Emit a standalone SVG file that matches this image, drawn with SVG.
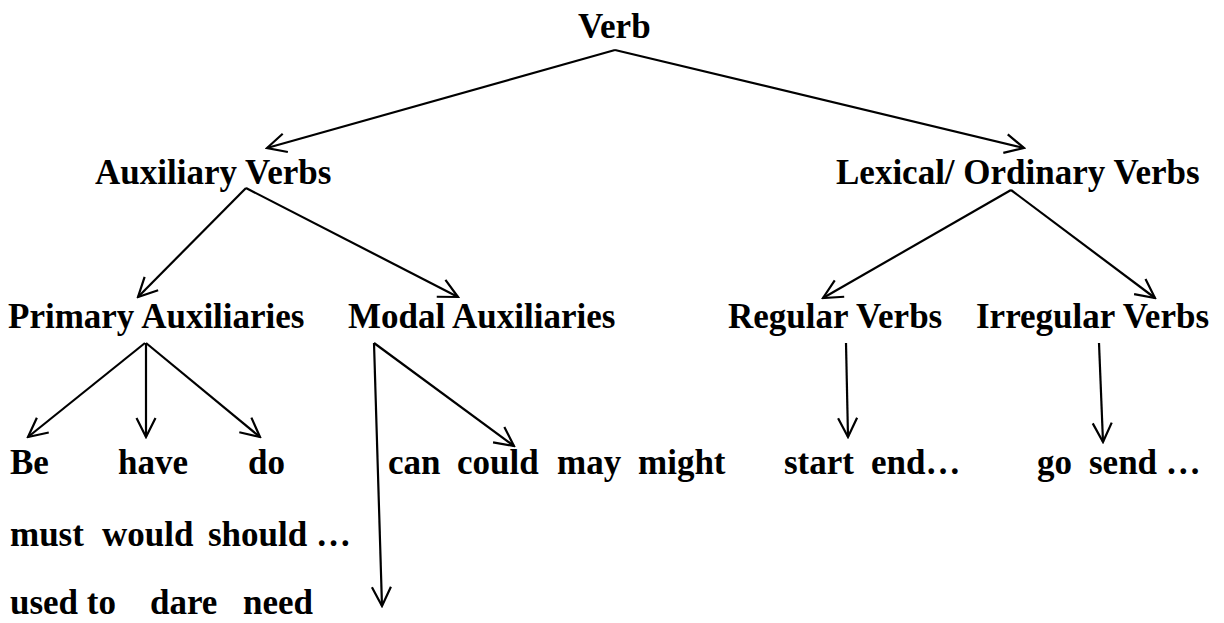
<svg xmlns="http://www.w3.org/2000/svg" width="1224" height="623" viewBox="0 0 1224 623">
<style>
text{font-family:"Liberation Serif","Times New Roman",serif;font-weight:bold;font-size:35px;fill:#000}
.c line{stroke:#000;stroke-width:2.2;fill:none;marker-end:url(#ah)}
</style>
<defs>
<marker id="ah" markerUnits="userSpaceOnUse" viewBox="-22 -12 24 24" markerWidth="24" markerHeight="24" refX="0" refY="0" orient="auto">
<path d="M-19,-9.5 L0,0 L-19,9.5" fill="none" stroke="#000" stroke-width="2.2"/>
</marker>
</defs>
<rect width="1224" height="623" fill="#fff"/>
<g id="verb"><text x="578" y="38">Verb</text></g>
<g id="auxiliary"><text x="95" y="184">Auxiliary Verbs</text></g>
<g id="lexical"><text x="836" y="184">Lexical/ Ordinary Verbs</text></g>
<g id="primary"><text x="8" y="328">Primary Auxiliaries</text></g>
<g id="modal"><text x="348" y="328">Modal Auxiliaries</text></g>
<g id="regular"><text x="728" y="328">Regular Verbs</text></g>
<g id="irregular"><text x="976" y="328">Irregular Verbs</text></g>
<g id="primary-examples"><text y="474"><tspan x="10">Be</tspan><tspan x="118">have</tspan><tspan x="248">do</tspan></text></g>
<g id="modal-examples">
<text y="474"><tspan x="388">can</tspan><tspan x="457">could</tspan><tspan x="557">may</tspan><tspan x="638">might</tspan></text>
<text y="546"><tspan x="10">must</tspan><tspan x="102">would</tspan><tspan x="208">should …</tspan></text>
<text y="614"><tspan x="10">used to</tspan><tspan x="150">dare</tspan><tspan x="243">need</tspan></text>
</g>
<g id="regular-examples"><text y="474"><tspan x="784">start</tspan><tspan x="871">end…</tspan></text></g>
<g id="irregular-examples"><text y="474"><tspan x="1037">go</tspan><tspan x="1089">send …</tspan></text></g>
<g id="connectors" class="c">
<line x1="615" y1="50" x2="267" y2="148"/>
<line x1="615" y1="50" x2="1024" y2="148"/>
<line x1="246" y1="188" x2="138" y2="297"/>
<line x1="246" y1="188" x2="458" y2="297"/>
<line x1="1011" y1="190" x2="823" y2="298"/>
<line x1="1011" y1="190" x2="1155" y2="298"/>
<line x1="145" y1="343" x2="28" y2="437"/>
<line x1="146" y1="343" x2="146" y2="437"/>
<line x1="146" y1="343" x2="260" y2="437"/>
<line x1="374" y1="343" x2="382" y2="606"/>
<line x1="374" y1="343" x2="514" y2="446"/>
<line x1="846" y1="343" x2="848" y2="437"/>
<line x1="1099" y1="343" x2="1103" y2="442"/>
</g>
</svg>
